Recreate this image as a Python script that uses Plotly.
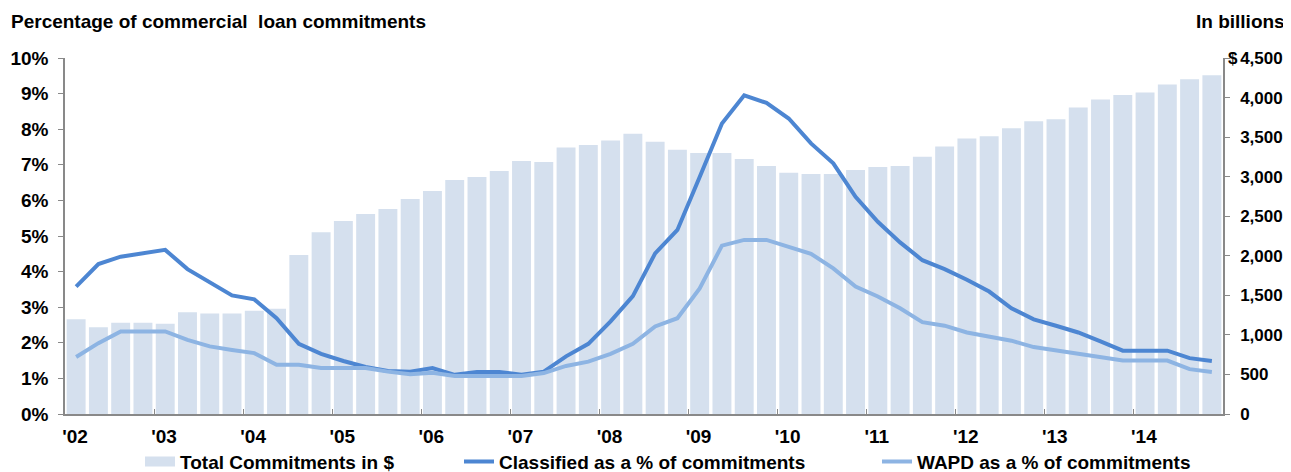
import plotly.graph_objects as go

# Quarterly data, 2002 Q1 .. 2014 Q4
year_labels = ["'02", "'03", "'04", "'05", "'06", "'07", "'08", "'09", "'10", "'11", "'12", "'13", "'14"]

total_commitments = [
    1199, 1098, 1152, 1152,   # 2002
    1140, 1287, 1270, 1270,   # 2003
    1304, 1329, 2010, 2297,   # 2004
    2439, 2528, 2591, 2717,   # 2005
    2818, 2957, 2995, 3071,   # 2006
    3197, 3184, 3370, 3399,   # 2007
    3458, 3541, 3440, 3339,   # 2008
    3298, 3298, 3222, 3134,   # 2009
    3049, 3033, 3033, 3083,   # 2010
    3121, 3134, 3251, 3382,   # 2011
    3483, 3512, 3613, 3701,   # 2012
    3727, 3874, 3975, 4033,   # 2013
    4064, 4165, 4232, 4282,   # 2014
]

classified_pct = [
    3.58, 4.21, 4.42, 4.51,
    4.61, 4.07, 3.69, 3.33,
    3.22, 2.69, 1.97, 1.69,
    1.49, 1.32, 1.21, 1.19,
    1.29, 1.10, 1.18, 1.18,
    1.10, 1.19, 1.62, 1.97,
    2.60, 3.31, 4.51, 5.17,
    6.66, 8.16, 8.95, 8.74,
    8.30, 7.60, 7.04, 6.10,
    5.40, 4.82, 4.32, 4.07,
    3.77, 3.44, 2.97, 2.66,
    2.48, 2.29, 2.04, 1.78,
    1.78, 1.78, 1.57, 1.49,
]

wapd_pct = [
    1.60, 1.99, 2.32, 2.32,
    2.32, 2.08, 1.90, 1.80,
    1.71, 1.38, 1.38, 1.29,
    1.29, 1.29, 1.19, 1.12,
    1.16, 1.07, 1.07, 1.07,
    1.07, 1.15, 1.35, 1.47,
    1.69, 1.97, 2.46, 2.69,
    3.53, 4.73, 4.89, 4.89,
    4.70, 4.50, 4.09, 3.58,
    3.30, 2.97, 2.58, 2.48,
    2.29, 2.18, 2.06, 1.88,
    1.78, 1.69, 1.60, 1.50,
    1.50, 1.50, 1.26, 1.18,
]

left_ticks = list(range(0, 11))
right_ticks = list(range(0, 4501, 500))

n = len(total_commitments)
x = list(range(n))
year_tickvals = [4 * i - 0.5 for i in range(len(year_labels))]

FONT = "Liberation Sans, Arial, sans-serif"
FS = 19
AXIS_GRAY = "#898989"
BAR_COLOR = "#D5E0EE"
CLASS_COLOR = "#4D86D2"
WAPD_COLOR = "#8DB4E3"

fig = go.Figure()

fig.add_trace(go.Bar(
    x=x, y=total_commitments, name="Total Commitments in $",
    marker=dict(color=BAR_COLOR, line=dict(width=0)),
    yaxis="y", legendgroup="total", showlegend=False,
))
# legend-only entry so the swatch is a wide band like the reference
fig.add_trace(go.Scatter(
    x=[None], y=[None], name="Total Commitments in $",
    mode="lines", line=dict(color=BAR_COLOR, width=11),
    yaxis="y", legendgroup="total", legend="legend", hoverinfo="skip",
))
fig.add_trace(go.Scatter(
    x=x, y=classified_pct, name="Classified as a % of commitments",
    mode="lines", line=dict(color=CLASS_COLOR, width=4),
    yaxis="y2", legend="legend2",
))
fig.add_trace(go.Scatter(
    x=x, y=wapd_pct, name="WAPD as a % of commitments",
    mode="lines", line=dict(color=WAPD_COLOR, width=4),
    yaxis="y2", legend="legend3",
))

# page body adds an 8px offset; figure coordinates = screen coordinates - 8
OFF = 8
W, H = 1291 - OFF, 472 - OFF
L, T = 65 - OFF, 58 - OFF
R = W - (1223 - OFF)
B = H - (414.3 - OFF)
pw = W - L - R
ph = H - T - B

def px_x(p):
    return (p - OFF - L) / pw

def px_y(p):
    return (H - B - (p - OFF)) / ph

tfont = dict(family=FONT, size=FS, color="#000000", weight="bold")
rfont = dict(family=FONT, size=17, color="#000000", weight="bold")
leg_y = px_y(462)

fig.update_layout(
    width=W, height=H,
    margin=dict(l=L, r=R, t=T, b=B, pad=0, autoexpand=False),
    paper_bgcolor="white", plot_bgcolor="white",
    bargap=0.15,
    showlegend=True,
    font=tfont,
    xaxis=dict(
        range=[-0.5, n - 0.5],
        tickmode="array", tickvals=year_tickvals, ticktext=year_labels,
        ticks="inside", ticklen=5, tickcolor=AXIS_GRAY, tickwidth=1,
        showline=True, linecolor=AXIS_GRAY, linewidth=1.5,
        showgrid=False, zeroline=False,
        ticklabelshift=10, ticklabelstandoff=4,
        tickfont=tfont,
    ),
    yaxis=dict(
        side="right", range=[0, 4500],
        tickmode="array", tickvals=right_ticks,
        ticktext=["{:,}".format(v) for v in right_ticks],
        ticks="outside", ticklen=5, tickcolor=AXIS_GRAY,
        showline=True, linecolor=AXIS_GRAY, linewidth=1.5,
        showgrid=False, zeroline=False,
        ticklabelstandoff=7,
        tickfont=rfont,
    ),
    yaxis2=dict(
        side="left", overlaying="y", range=[0, 10],
        tickmode="array", tickvals=left_ticks,
        ticktext=["{}%".format(v) for v in left_ticks],
        ticks="outside", ticklen=5, tickcolor=AXIS_GRAY,
        showline=True, linecolor=AXIS_GRAY, linewidth=1.5,
        showgrid=False, zeroline=False,
        ticklabelstandoff=6,
        tickfont=tfont,
    ),
    legend=dict(x=px_x(140), y=leg_y, xanchor="left", yanchor="middle",
                orientation="h", font=tfont, bgcolor="rgba(0,0,0,0)"),
    legend2=dict(x=px_x(459), y=leg_y, xanchor="left", yanchor="middle",
                 orientation="h", font=tfont, bgcolor="rgba(0,0,0,0)"),
    legend3=dict(x=px_x(877), y=leg_y, xanchor="left", yanchor="middle",
                 orientation="h", font=tfont, bgcolor="rgba(0,0,0,0)"),
    annotations=[
        dict(text="Percentage of commercial  loan commitments",
             xref="paper", yref="paper", x=px_x(9), y=px_y(21),
             xanchor="left", yanchor="middle", showarrow=False, font=tfont),
        dict(text="In billions",
             xref="paper", yref="paper", x=px_x(1287), y=px_y(21),
             xanchor="right", yanchor="middle", showarrow=False, font=tfont),
        dict(text="$",
             xref="paper", yref="y", x=px_x(1240), y=right_ticks[-1],
             xanchor="right", yanchor="middle", showarrow=False, font=rfont),
    ],
)

fig.write_html("out.html")
